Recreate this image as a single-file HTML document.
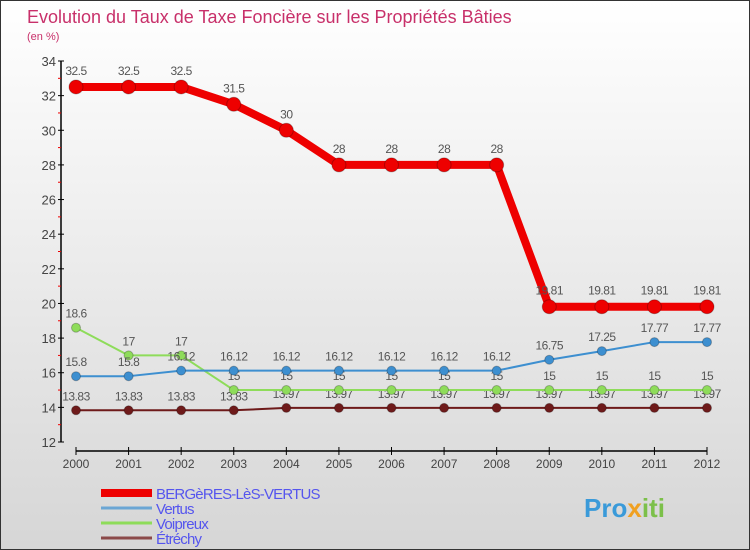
<!DOCTYPE html>
<html><head><meta charset="utf-8"><style>
body{margin:0}
#c{width:750px;height:550px;position:relative;overflow:hidden;font-family:"Liberation Sans",sans-serif;background:linear-gradient(#ffffff,#d6d6d6);box-sizing:border-box;border:1px solid #333}
svg text{font-family:"Liberation Sans",sans-serif}
</style></head><body>
<div id="c">
<svg id="s" width="750" height="550">
<text x="26" y="22" font-size="18" fill="#c8306a">Evolution du Taux de Taxe Foncière sur les Propriétés Bâties</text>
<text x="26" y="39" font-size="11" fill="#c8306a">(en %)</text>
<g id="axes"></g><g id="series"></g><g id="legend"></g>
<text x="583" y="516" font-size="26" font-weight="bold" fill="#3a9ad9">Pro<tspan fill="#f0a020">x</tspan><tspan fill="#7cc04a">iti</tspan></text>
</svg>
</div>
<script>
const years=[2000,2001,2002,2003,2004,2005,2006,2007,2008,2009,2010,2011,2012];
const bergeres=[32.5,32.5,32.5,31.5,30,28,28,28,28,19.81,19.81,19.81,19.81];
const vertus=[15.8,15.8,16.12,16.12,16.12,16.12,16.12,16.12,16.12,16.75,17.25,17.77,17.77];
const voipreux=[18.6,17,17,15,15,15,15,15,15,15,15,15,15];
const etrechy=[13.83,13.83,13.83,13.83,13.97,13.97,13.97,13.97,13.97,13.97,13.97,13.97,13.97];
const yTicks=[12,14,16,18,20,22,24,26,28,30,32,34];
const names=["BERGèRES-LèS-VERTUS","Vertus","Voipreux","Étréchy"];
const NS="http://www.w3.org/2000/svg";
const X=i=>75+i*(706-75)/(years.length-1);
const Y=v=>441-(v-12)*(381/22);
function mk(t,a,p){const e=document.createElementNS(NS,t);for(const k in a)e.setAttribute(k,a[k]);p.appendChild(e);return e;}
const ax=document.getElementById('axes');
const yl=mk('line',{x1:60,y1:Y(34),x2:60,y2:Y(12),stroke:'#000','stroke-width':1.5},ax);


const xl=mk('line',{x1:75,y1:450,x2:706,y2:450,stroke:'#000','stroke-width':1.5},ax);


yTicks.forEach(v=>{
 mk('line',{x1:57,x2:63,y1:Y(v),y2:Y(v),stroke:'#000'},ax);
 if(v<34)mk('line',{x1:57,x2:60,y1:Y(v+1),y2:Y(v+1),stroke:'#e00'},ax);
 const t=mk('text',{x:55,y:Y(v)+5,'text-anchor':'end','font-size':13,fill:'#444'},ax);
 t.textContent=v;
 
 
});
years.forEach((y,i)=>{
 mk('line',{x1:X(i),x2:X(i),y1:446,y2:454,stroke:'#000'},ax);
 const t=mk('text',{x:X(i),y:467,'text-anchor':'middle','font-size':12,fill:'#444'},ax);
 t.textContent=y;
 
 
});
const sg=document.getElementById('series');
function series(data,color,w,r,name){
 const g=mk('g',{},sg);
 
 
 mk('polyline',{points:data.map((v,i)=>X(i)+','+Y(v)).join(' '),fill:'none',stroke:color,'stroke-width':w,'stroke-linejoin':'round'},g);
 data.forEach((v,i)=>{
  const c=mk('circle',{cx:X(i),cy:Y(v),r:r,fill:color,stroke:'rgba(0,0,0,0.25)','stroke-width':1},g);
  
  
  const t=mk('text',{x:X(i),y:Y(v)-10-(r>5?2:0),'text-anchor':'middle','font-size':12,fill:'#555','letter-spacing':'-0.5'},g);
  t.textContent=v;
  
  
 });
}
series(etrechy,'#6e1a1a',2,4.5,'series-etrechy');
series(voipreux,'#8edc5a',2,4.5,'series-voipreux');
series(vertus,'#3d8fd0',2,4.5,'series-vertus');
series(bergeres,'#ee0000',8,7,'series-bergeres');
const lg=document.getElementById('legend');
const lc=['#ee0000','#6ba6d4','#8edc5a','#8b4a4a'];
const lw=[8,3,3,3];
names.forEach((n,i)=>{
 const y=492+i*15;
 const g=mk('g',{},lg);
 
 
 mk('line',{x1:100,x2:151,y1:y,y2:y,stroke:lc[i],'stroke-width':lw[i]},g);
 const t=mk('text',{x:155,y:y+6,'font-size':15,fill:'#5555ee','letter-spacing':'-0.8'},g);
 t.textContent=n;
});
</script>
</body></html>
